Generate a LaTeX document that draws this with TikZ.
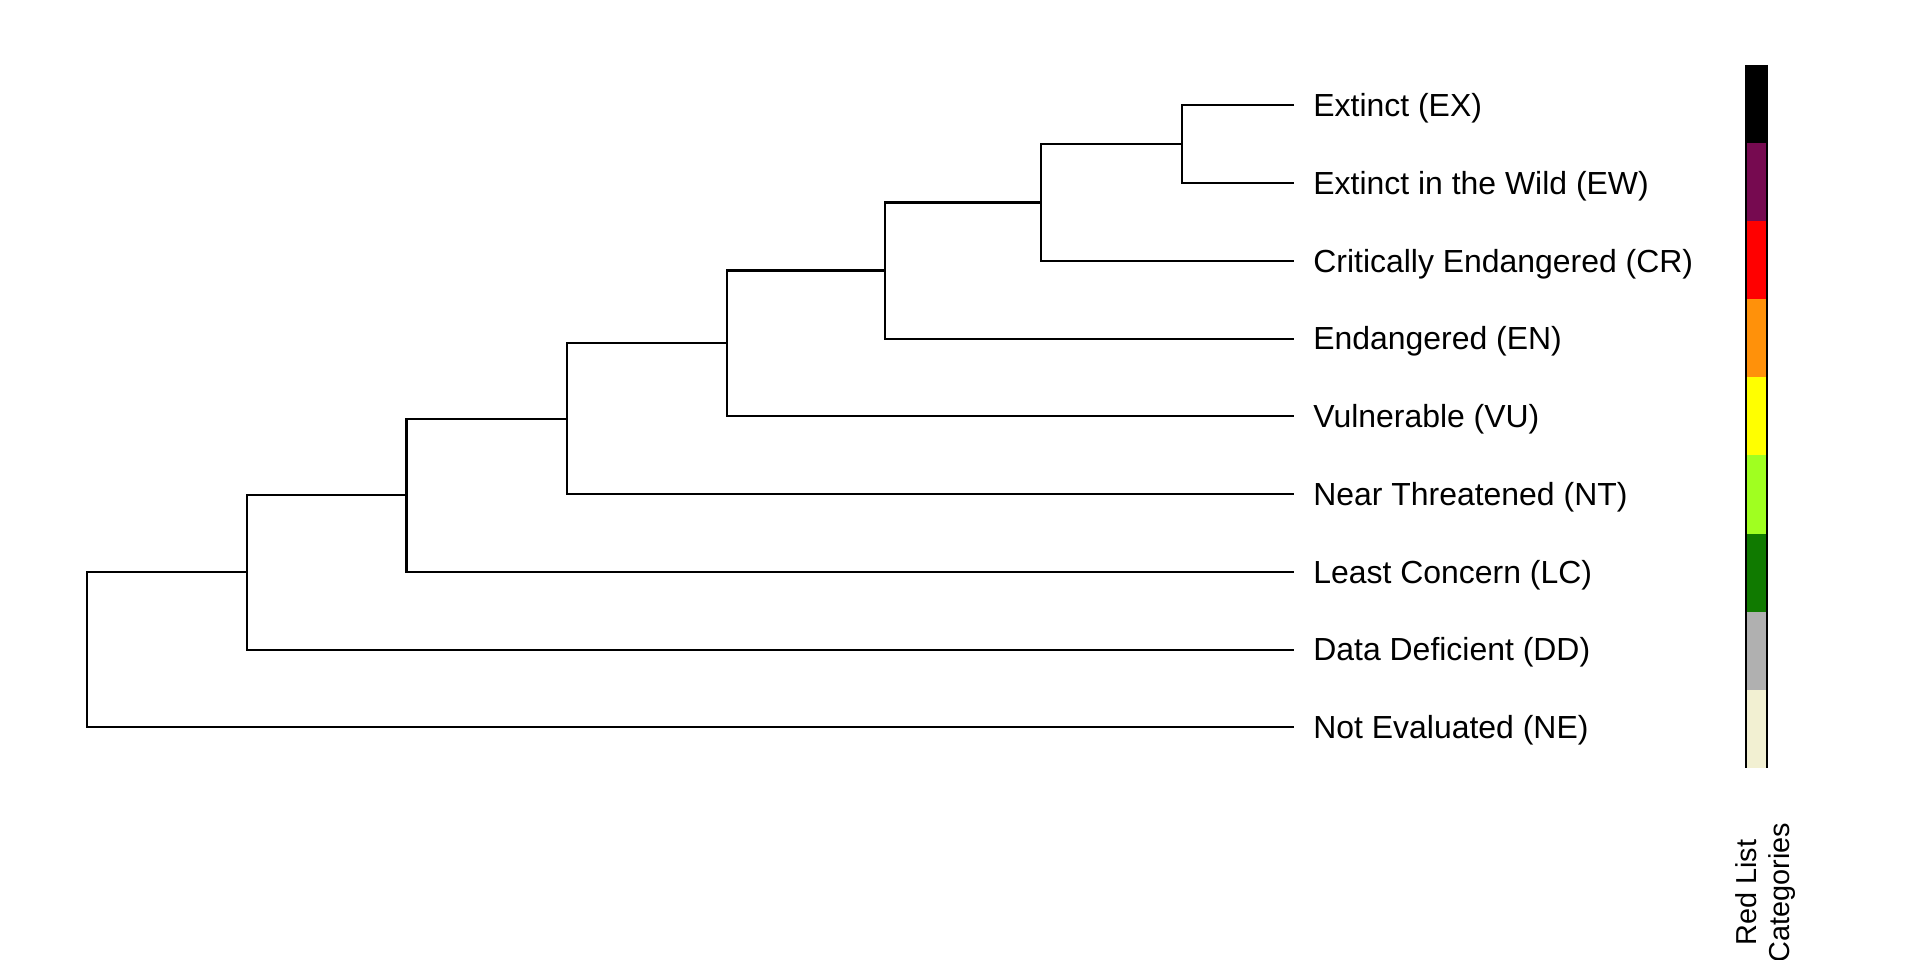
\documentclass[tikz,border=0pt]{standalone}
\usepackage{fontspec}
\setmainfont{Liberation Sans}
\definecolor{cEX}{RGB}{0,0,0}
\definecolor{cEW}{RGB}{118,10,80}
\definecolor{cCR}{RGB}{255,0,0}
\definecolor{cEN}{RGB}{255,145,10}
\definecolor{cVU}{RGB}{255,255,0}
\definecolor{cNT}{RGB}{160,255,32}
\definecolor{cLC}{RGB}{16,122,0}
\definecolor{cDD}{RGB}{176,176,176}
\definecolor{cNE}{RGB}{242,240,210}
\tikzset{
  branch/.style={line width=0.6pt},
  lab/.style={anchor=base west, inner sep=0pt, font=\fontsize{9.08pt}{10.9pt}\selectfont}
}
\begin{document}
\begin{tikzpicture}[x=0.01cm,y=-0.01cm]
\useasboundingbox (0,0) rectangle (1920,960);

% tips
\coordinate (ex) at (1294,105.3);
\coordinate (ew) at (1294,183.05);
\coordinate (cr) at (1294,260.8);
\coordinate (en) at (1294,338.55);
\coordinate (vu) at (1294,416.3);
\coordinate (nt) at (1294,494.05);
\coordinate (lc) at (1294,571.8);
\coordinate (dd) at (1294,649.55);
\coordinate (ne) at (1294,727.3);

% internal nodes
\coordinate (a) at (1181.6,144.2);
\coordinate (b) at (1040.8,202.5);
\coordinate (c) at (885.3,270.5);
\coordinate (d) at (727.4,343.4);
\coordinate (e) at (567,418.7);
\coordinate (f) at (406.5,495.3);
\coordinate (g) at (247.3,572.4);
\coordinate (root) at (86.9,649.9);

\draw[branch] (ex) -| (a) |- (ew);
\draw[branch] (a) -| (b) |- (cr);
\draw[branch] (b) -| (c) |- (en);
\draw[branch] (c) -| (d) |- (vu);
\draw[branch] (d) -| (e) |- (nt);
\draw[branch] (e) -| (f) |- (lc);
\draw[branch] (f) -| (g) |- (dd);
\draw[branch] (g) -| (root) |- (ne);

% labels
\node[lab] (lex) at (1312.7,116.7) {Extinct (EX)};
\node[lab] (lew) at (1312.7,194.45) {Extinct in the Wild (EW)};
\node[lab] (lcr) at (1312.7,272.2) {Critically Endangered (CR)};
\node[lab] (len) at (1312.7,349.95) {Endangered (EN)};
\node[lab] (lvu) at (1312.7,427.7) {Vulnerable (VU)};
\node[lab] (lnt) at (1312.7,505.45) {Near Threatened (NT)};
\node[lab] (llc) at (1312.7,583.2) {Least Concern (LC)};
\node[lab] (ldd) at (1312.7,660.95) {Data Deficient (DD)};
\node[lab] (lne) at (1312.7,738.7) {Not Evaluated (NE)};

% colour bar
\foreach \col [count=\i from 0] in {cEX,cEW,cCR,cEN,cVU,cNT,cLC,cDD,cNE}
  \fill[\col] (1746,64.9+78.1*\i) rectangle (1767,64.9+78.1*\i+78.1);
\draw[branch] (1746,64.9) -- (1746,767.8);
\draw[branch] (1767,64.9) -- (1767,767.8);

\node[rotate=90, align=center, inner sep=0pt,
      font=\fontsize{8.2pt}{9.4pt}\selectfont] (legtitle) at (1766,892.5) {Red List\\Categories};
\end{tikzpicture}
\end{document}
